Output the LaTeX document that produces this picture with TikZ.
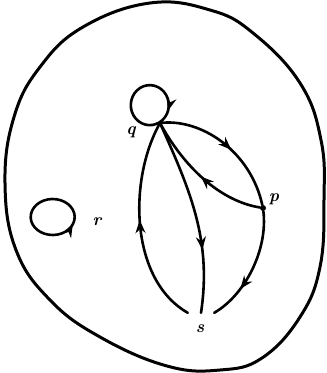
\documentclass[tikz,border=0pt]{standalone}
\usetikzlibrary{decorations.markings,arrows.meta}
\begin{document}
\begin{tikzpicture}[x=1pt,y=-1pt,line cap=round,
  edge/.style={line width=2.6pt},
  marrow/.style={decoration={markings,mark=at position #1 with {\arrow{Stealth[length=13pt,width=10pt]}}},postaction={decorate}},
  lbl/.style={font=\itshape\LARGE\bfseries,inner sep=0pt},
  dotnode/.style={circle,fill,inner sep=0pt,minimum size=6pt}]
\useasboundingbox (0,0) rectangle (327,373);
% boundary
\draw[line width=3pt] plot[smooth cycle,tension=0.7] coordinates {(150,3) (210,10) (253,33) (300,83) (321,140) (324,200) (320,267) (300,317) (262,358) (220,370) (167,366) (100,337) (50,300) (16,250) (5,183) (14,117) (40,67) (83,27)};
% vertices
\coordinate (q) at (160,123);
\node[dotnode] (p) at (263,208) {};
\node[minimum width=26pt,minimum height=16pt,inner sep=0pt] (s) at (201,321) {};
\node[lbl] (ql) at (131,132) {q};
\node[lbl] (pl) at (274,199) {p};
\node[lbl] (sl) at (200,329) {s};
\node[lbl] (rl) at (97,222) {r};
% loop at q
\draw[edge,marrow=0.88] (148,103) ++(59:22.5) arc[start angle=59,end angle=419,x radius=19,y radius=20];
% loop at r
\draw[edge,marrow=0.22] (52,217) ++(100:18) arc[start angle=100,end angle=-260,x radius=22,y radius=18];
% edges
\draw[edge,marrow=0.55] (q) .. controls (200,118) and (250,150) .. (p);
\draw[edge,marrow=0.5] (p) .. controls (215,200) and (180,160) .. (q);
\draw[edge,marrow=0.68] (q) .. controls (190,190) and (212,240) .. (s.north);
\draw[edge,marrow=0.52] (s.north west) .. controls (130,280) and (128,180) .. (q);
\draw[edge,marrow=0.7] (p) .. controls (268,250) and (245,295) .. (s.north east);
\end{tikzpicture}
\end{document}
